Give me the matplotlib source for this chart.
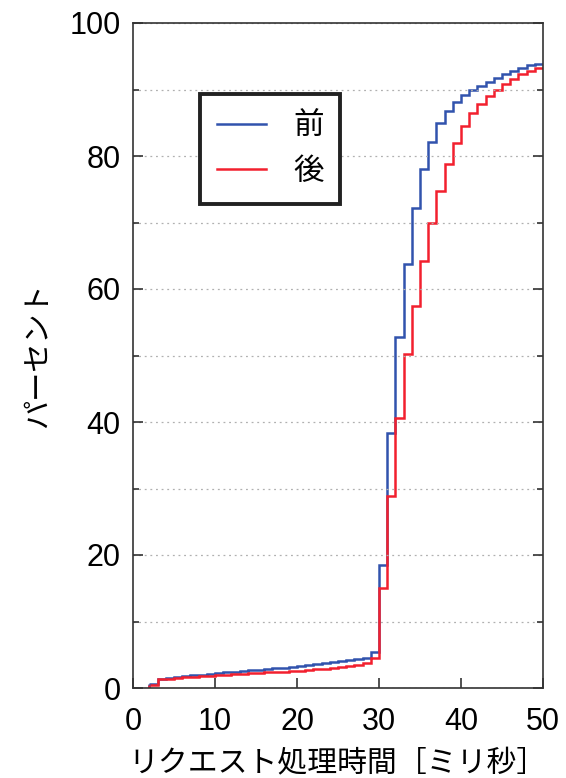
import numpy as np
import matplotlib
matplotlib.use("Agg")
from matplotlib import pyplot as plt
from matplotlib.ticker import MultipleLocator

plt.rcParams["font.family"] = ["Liberation Sans", "Noto Sans CJK JP", "DejaVu Sans"]

# bin edges in ms (1 ms bins, from 2 to 50)
edges = np.arange(2, 51)

# cumulative percentage per bin
before = [0.6, 1.4, 1.55, 1.7, 1.8, 1.9, 2.0, 2.1, 2.25, 2.35, 2.45, 2.55, 2.65, 2.75,
          2.85, 2.95, 3.05, 3.2, 3.35, 3.5, 3.65, 3.8, 3.95, 4.1, 4.25, 4.4, 4.55, 5.35,
          18.5, 38.3, 52.8, 63.7, 72.2, 78.0, 82.1, 84.9, 86.8, 88.15, 89.2, 89.9, 90.55,
          91.15, 91.7, 92.3, 92.85, 93.25, 93.65, 93.9]
after = [0.4, 1.3, 1.4, 1.5, 1.6, 1.7, 1.75, 1.85, 1.95, 2.0, 2.1, 2.15, 2.2, 2.3,
         2.35, 2.4, 2.45, 2.5, 2.6, 2.7, 2.8, 2.9, 3.0, 3.1, 3.25, 3.45, 3.75, 4.55,
         15.0, 28.8, 40.6, 50.2, 57.5, 64.2, 70.0, 74.8, 78.85, 82.0, 84.5, 86.5, 87.85,
         89.0, 90.0, 90.9, 91.65, 92.3, 92.8, 93.25]

labels = ["前", "後"]
colors = ["#3153ad", "#f2202e"]

fig = plt.figure(figsize=(5.66, 7.78), dpi=100)
ax = fig.add_axes([133 / 566, 1 - 688 / 778, 410 / 566, 665 / 778])

for vals, lab, col in zip([before, after], labels, colors):
    ax.stairs(vals, edges, baseline=None, color=col, lw=1.8, label=lab)
    ax.vlines(edges[0], 0, vals[0], color=col, lw=1.8)

ax.set_xlim(0, 50)
ax.set_ylim(0, 100)
ax.xaxis.set_major_locator(MultipleLocator(10))
ax.yaxis.set_major_locator(MultipleLocator(20))
ax.yaxis.set_minor_locator(MultipleLocator(10))
ax.tick_params(which="both", direction="in", labelsize=22, width=1.2, color="#333333")
ax.tick_params(axis="y", which="both", right=True)
ax.tick_params(which="major", length=7, pad=9)
ax.tick_params(axis="x", which="major", pad=14)
ax.tick_params(which="minor", length=4)
ax.grid(True, axis="y", which="both", ls=(0, (1.5, 3)), color="#b0b0b0", lw=0.9)
for s in ax.spines.values():
    s.set_linewidth(1.2)
    s.set_color("#333333")

ax.set_xlabel("リクエスト処理時間［ミリ秒］", fontsize=21.5, labelpad=9)
ax.set_ylabel("パーセント", fontsize=21, labelpad=12)

leg = ax.legend(loc="upper left", bbox_to_anchor=(0.163, 0.893), fancybox=False,
                framealpha=1, edgecolor="#222222", fontsize=22, handlelength=1.6,
                handletextpad=0.9, borderpad=0.55, labelspacing=0.45, borderaxespad=0)
leg.get_frame().set_linewidth(2.8)
for t in leg.get_texts():
    t.set_family(["Noto Sans CJK JP"])

fig.savefig("out.png", dpi=100)
